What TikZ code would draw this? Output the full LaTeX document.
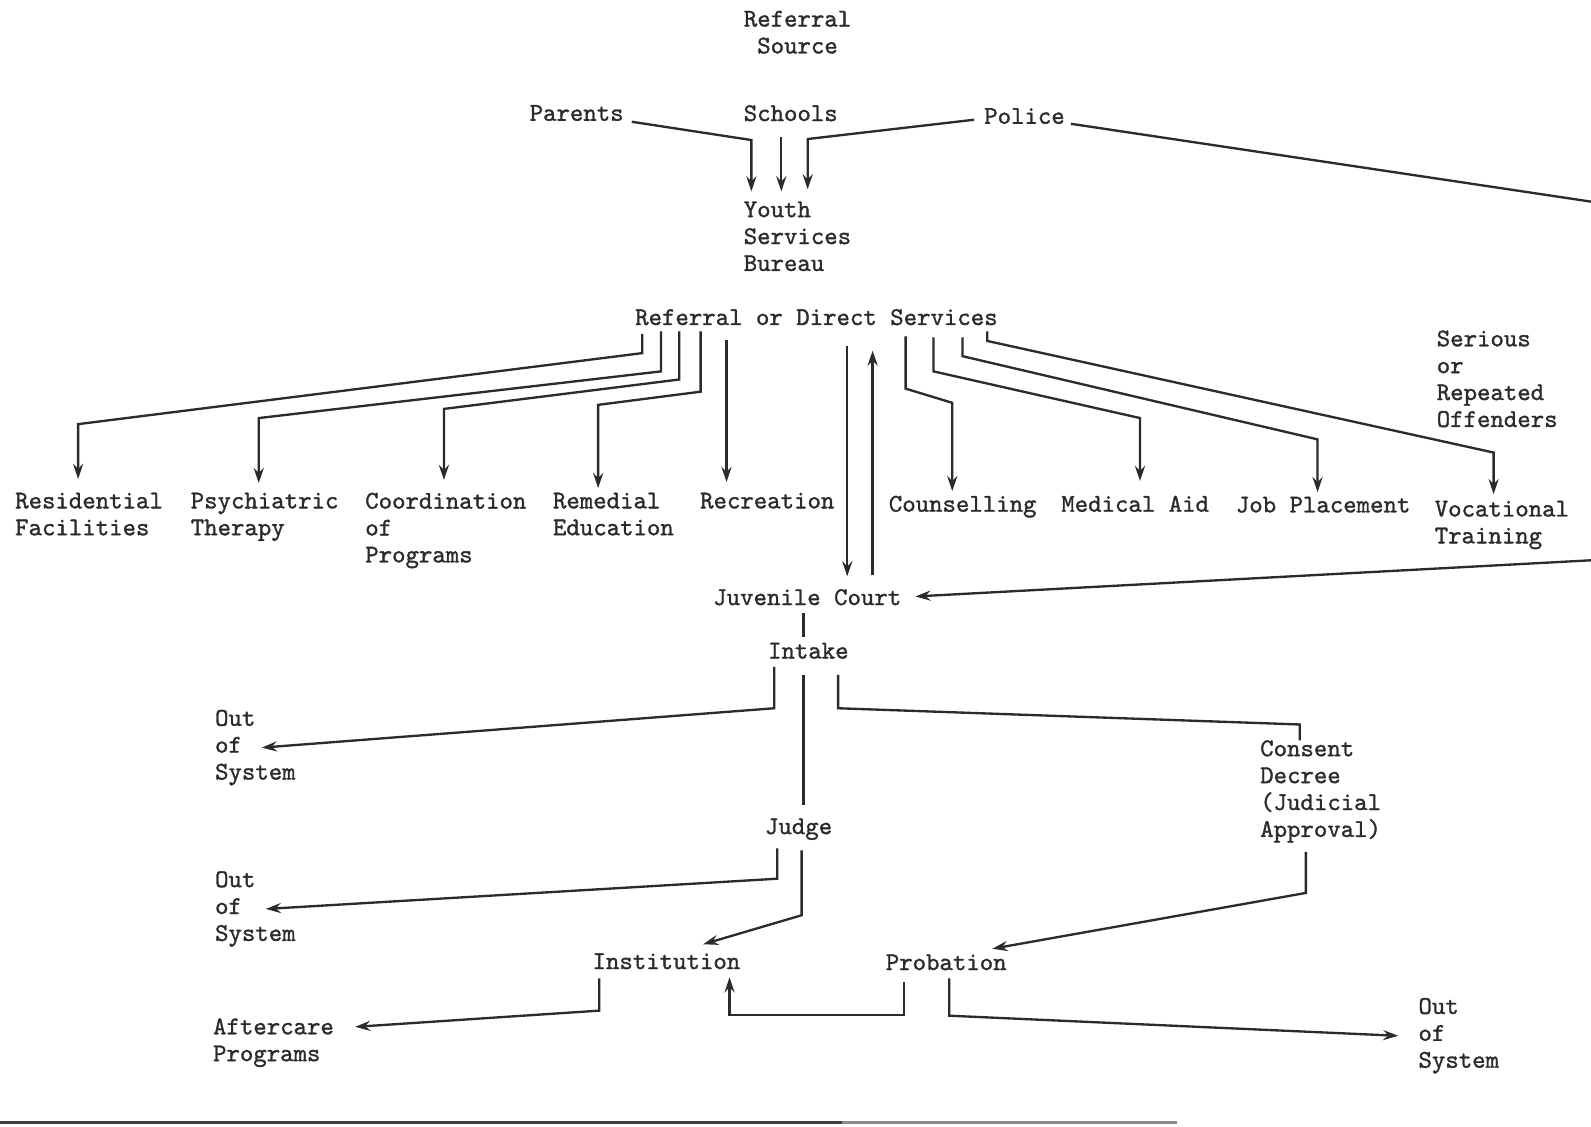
\documentclass[tikz,border=0pt]{standalone}
\usepackage{fontspec}
\newfontfamily\typew{lmmono10-regular.otf}[FakeBold=1.2]
\usetikzlibrary{arrows.meta,calc}
\definecolor{ink}{HTML}{2B2B2B}
\begin{document}
\begin{tikzpicture}[x=0.5pt,y=-0.5pt,
  lbl/.style={anchor=north west, yshift=7.7pt, inner sep=0pt, outer sep=0pt,
    align=left, text=ink, font=\fontsize{12.6}{13.25}\selectfont\typew},
  conn/.style={draw=ink, line width=1.15pt, line join=miter},
  arr/.style={conn, -{Stealth[length=7.5pt,width=5pt,inset=2.6pt]}},
  rule/.style={line width=1.6pt}
  ]
\useasboundingbox (0,0) rectangle (1568,1110);
\clip (0,0) rectangle (1568,1110);

% ---- nodes ----
\node[lbl, anchor=north, align=center] (src) at (786,26) {Referral\\Source};
\node[lbl] (par) at (522,119) {Parents};
\node[lbl] (sch) at (733,119) {Schools};
\node[lbl] (pol) at (970,122) {Police};
\node[lbl] (ysb) at (733,214) {Youth\\Services\\Bureau};
\node[lbl] (rods) at (626,320) {Referral or Direct Services};
\node[lbl] (res) at (15,501) {Residential\\Facilities};
\node[lbl] (psy) at (188,501) {Psychiatric\\Therapy};
\node[lbl] (coo) at (360,501) {Coordination\\of\\Programs};
\node[lbl] (rem) at (545,501) {Remedial\\Education};
\node[lbl] (rec) at (690,501) {Recreation};
\node[lbl] (cou) at (876,504) {Counselling};
\node[lbl] (med) at (1046,504) {Medical Aid};
\node[lbl] (job) at (1218,505) {Job Placement};
\node[lbl] (voc) at (1414,509) {Vocational\\Training};
\node[lbl] (ser) at (1416,341) {Serious\\or\\Repeated\\Offenders};
\node[lbl] (jc) at (703,596) {Juvenile Court};
\node[lbl] (int) at (757,649) {Intake};
\node[lbl] (oos1) at (212,715) {Out\\of\\System};
\node[lbl] (con) at (1242,745) {Consent\\Decree\\(Judicial\\Approval)};
\node[lbl] (jud) at (754,822) {Judge};
\node[lbl] (oos2) at (212,874) {Out\\of\\System};
\node[lbl] (ins) at (584,955) {Institution};
\node[lbl] (pro) at (873,956) {Probation};
\node[lbl] (aft) at (210,1019) {Aftercare\\Programs};
\node[lbl] (oos3) at (1398,999) {Out\\of\\System};

% ---- referral sources to bureau ----
\draw[arr, shorten >=5pt] ([xshift=4pt,yshift=-0.5pt]par.base east) -- (740.5,138) -- (740.5,0 |- ysb.north);
\draw[arr, shorten <=8pt, shorten >=5pt] (770,0 |- sch.base) -- (770,0 |- ysb.north);
\draw[arr, shorten >=6pt] ([xshift=-5pt,yshift=2pt]pol.base west) -- (796,137) -- (796,0 |- ysb.north);
% police to juvenile court (runs off the page)
\draw[arr, shorten >=7pt] ([xshift=3pt]pol.base east) -- (1590,202) -- (1590,551) -- (jc.east);

% ---- services ----
\draw[arr, shorten <=4.2pt, shorten >=6.8pt] (633,0 |- rods.south) -- (633,348) -- (77,418) -- (77,0 |- res.north);
\draw[arr, shorten <=3pt, shorten >=4.8pt] (651.5,0 |- rods.south) -- (651.5,366) -- (255,412) -- (255,0 |- psy.north);
\draw[arr, shorten <=3pt, shorten >=6.3pt] (669.5,0 |- rods.south) -- (669.5,374) -- (437.5,403) -- (437.5,0 |- coo.north);
\draw[arr, shorten <=3pt, shorten >=2.3pt] (690.5,0 |- rods.south) -- (690.5,386) -- (589.5,399) -- (589.5,0 |- rem.north);
\draw[arr, shorten <=7.5pt, shorten >=5.3pt] (716,0 |- rods.south) -- (716,0 |- rec.north);
\draw[arr, shorten <=10pt, shorten >=6.3pt] (835,0 |- rods.south) -- (835,0 |- jc.north);
\draw[arr, shorten <=6.8pt, shorten >=12.5pt] (860,0 |- jc.north) -- (860,0 |- rods.south);
\draw[arr, shorten <=5.5pt, shorten >=2.3pt] (892.5,0 |- rods.south) -- (892.5,383) -- (938.5,397) -- (938.5,0 |- cou.north);
\draw[arr, shorten <=6pt, shorten >=7.3pt] (920,0 |- rods.south) -- (920,366) -- (1123.5,412) -- (1123.5,0 |- med.north);
\draw[arr, shorten <=6pt, shorten >=2.3pt] (948.5,0 |- rods.south) -- (948.5,351) -- (1298.5,433) -- (1298.5,0 |- job.north);
\draw[arr, shorten <=3pt, shorten >=3.3pt] (973,0 |- rods.south) -- (973,336) -- (1472,446) -- (1472,0 |- voc.north);

% ---- court ----
\draw[conn, shorten <=4pt, shorten >=2.8pt] (792,0 |- jc.south) -- (792,0 |- int.north);
\draw[arr, shorten <=4pt] (763,0 |- int.south) -- (763,698) -- (258,0 |- oos1.west);
\draw[conn, shorten <=8pt, shorten >=6.8pt] (792,0 |- int.south) -- (792,0 |- jud.north);
\draw[conn, shorten <=8pt] (826,0 |- int.south) -- (826,698) -- (1281,714) -- (1281,0 |- con.north);
\draw[arr, shorten <=4.2pt] (766,0 |- jud.south) -- (766,866) -- (262,0 |- oos2.west);
\draw[arr, shorten <=5.2pt] (790,0 |- jud.south) -- (790,902) -- ($(ins.north west)+(109,-9)$);
\draw[arr, shorten <=4.6pt] (1287,0 |- con.south) -- (1287,880) -- ($(pro.north east)+(-14,-5.6)$);
\draw[arr, shorten <=4.5pt] (590.5,0 |- ins.south) -- (590.5,996) -- ($(aft.north east)+(21,8.4)$);
\draw[arr, shorten <=5.7pt, shorten >=4pt] (891,0 |- pro.south) -- (891,1000) -- (719,1000) -- (719,0 |- ins.south);
\draw[arr, shorten <=4pt] (935.5,0 |- pro.south) -- (935.5,1001) -- ([xshift=-10pt]oos3.west);

% ---- page rule at the bottom ----
\draw[rule, draw=black!75] (0,1106) -- (830,1106);
\draw[rule, draw=black!45] (830,1106) -- (1160,1106);
\end{tikzpicture}
\end{document}
